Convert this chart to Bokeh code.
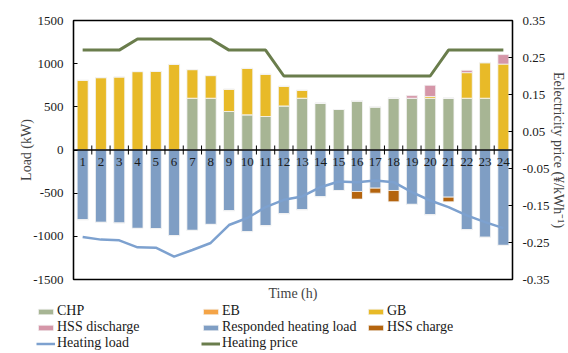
import numpy as np
from bokeh.plotting import figure
from bokeh.models import (ColumnDataSource, Range1d, LinearAxis, FixedTicker,
                          Span, Legend, LegendItem, NumeralTickFormatter)
from bokeh.core.properties import value
from bokeh.embed import file_html
from bokeh.resources import INLINE

# ---------------- data ----------------
hours = list(range(1, 25))
hour_labels = [str(h) for h in hours]

chp = [0, 0, 0, 0, 0, 0, 600, 600, 446, 408, 388, 511,
       600, 542, 469, 569, 500, 600, 600, 600, 600, 600, 600, 0]
eb = [0] * 24
gb = [808, 838, 846, 908, 911, 992, 331, 262, 258, 538, 489, 227,
      92, 0, 0, 0, 0, 0, 0, 20, 0, 296, 411, 995]
hss_discharge = [0, 0, 0, 0, 0, 0, 0, 0, 0, 0, 0, 0,
                 0, 0, 0, 0, 0, 0, 30, 130, 0, 27, 0, 110]
responded_load = [-808, -838, -846, -908, -911, -992, -931, -862, -704, -946, -877, -738,
                  -692, -542, -469, -481, -442, -469, -630, -750, -546, -923, -1011, -1105]
hss_charge = [0, 0, 0, 0, 0, 0, 0, 0, 0, 0, 0, 0,
              0, 0, 0, -88, -58, -131, 0, 0, -54, 0, 0, 0]
heating_load = [-1008, -1038, -1046, -1127, -1131, -1235, -1158, -1077, -869, -788, -662, -577,
                -538, -431, -365, -373, -354, -373, -488, -585, -662, -758, -835, -905]
heating_price = [0.27, 0.27, 0.27, 0.30, 0.30, 0.30, 0.30, 0.30, 0.27, 0.27, 0.27, 0.20,
                 0.20, 0.20, 0.20, 0.20, 0.20, 0.20, 0.20, 0.20, 0.27, 0.27, 0.27, 0.27]

left_ticks = [-1500, -1000, -500, 0, 500, 1000, 1500]
right_ticks = [-0.35, -0.25, -0.15, -0.05, 0.05, 0.15, 0.25, 0.35]

legend_labels = ["CHP", "EB", "GB", "HSS discharge", "Responded heating load",
                 "HSS charge", "Heating load", "Heating price"]

colors_pos = ["#A7B594", "#F4A447", "#E8BA28", "#D596A8"]
colors_neg = ["#7F9EC4", "#B4640E"]
load_color = "#7DA1CF"
price_color = "#6A7D4C"

FONT = "Liberation Serif"

src = ColumnDataSource(dict(hours=hours, chp=chp, eb=eb, gb=gb, hss_dis=hss_discharge,
                            resp=responded_load, charge=hss_charge))

p = figure(width=568, height=303, x_range=Range1d(0.5, 24.5), y_range=Range1d(-1500, 1500),
           output_backend="svg", toolbar_location=None, title=None,
           min_border_left=73, min_border_top=20, min_border_right=52, min_border_bottom=24)
p.background_fill_color = "white"
p.border_fill_color = "white"
p.xgrid.visible = False
p.ygrid.visible = False
p.outline_line_color = "black"
p.outline_line_width = 1.3

p.extra_y_ranges = {"price": Range1d(-0.35, 0.35)}

# bars
pos = p.vbar_stack(["chp", "eb", "gb", "hss_dis"], x="hours", width=0.6, source=src,
                   fill_color=colors_pos, line_color="#F4F4F4", line_width=0.8)
neg = p.vbar_stack(["resp", "charge"], x="hours", width=0.6, source=src,
                   fill_color=colors_neg, line_color="#F4F4F4", line_width=0.8)

# lines
load_line = p.line(hours, heating_load, line_color=load_color, line_width=2.5)
price_line = p.line(hours, heating_price, line_color=price_color, line_width=3,
                    y_range_name="price")

# zero axis with ticks and hour labels
p.add_layout(Span(location=0, dimension="width", line_color="black", line_width=1.3))
p.scatter([h + 0.5 for h in hours[:-1]], [0] * 23, marker="dash", angle=np.pi / 2,
          size=9, line_color="black", line_width=1)
p.text(hours, [0] * 24, text=hour_labels, text_align="center", text_baseline="top",
       y_offset=8, text_font=value(FONT), text_font_size="13px", text_color="#1a1a1a")

# left axis
ya = p.yaxis[0]
ya.ticker = FixedTicker(ticks=left_ticks)
ya.formatter = NumeralTickFormatter(format="0")
ya.axis_label = "Load (kW)"
ya.axis_label_text_font = FONT
ya.axis_label_text_font_style = "normal"
ya.axis_label_text_font_size = "14px"
ya.axis_label_standoff = -4
ya.major_label_text_font = FONT
ya.major_label_text_font_size = "13px"
ya.major_label_text_color = "#1a1a1a"
ya.major_tick_in = 4
ya.major_tick_out = 0
ya.minor_tick_line_color = None
ya.major_label_standoff = 10
ya.axis_line_color = "black"
ya.axis_line_width = 1.3

# right axis
ra = LinearAxis(y_range_name="price", ticker=FixedTicker(ticks=right_ticks),
                formatter=NumeralTickFormatter(format="0.00"))
ra.axis_label = "Eelectricity price (¥/kWh⁻¹)"
ra.axis_label_text_font = FONT
ra.axis_label_text_font_style = "normal"
ra.axis_label_text_font_size = "14px"
ra.axis_label_text_line_height = 0.8
ra.axis_label_standoff = -2
ra.major_label_text_font = FONT
ra.major_label_text_font_size = "13px"
ra.major_label_text_color = "#1a1a1a"
ra.major_tick_in = 4
ra.major_tick_out = 0
ra.minor_tick_line_color = None
ra.major_label_standoff = 10
ra.axis_line_color = "black"
ra.axis_line_width = 1.3
p.add_layout(ra, "right")

# bottom axis (title only)
xa = p.xaxis[0]
xa.ticker = FixedTicker(ticks=[])
xa.axis_label = "Time (h)"
xa.axis_label_text_font = FONT
xa.axis_label_text_font_style = "normal"
xa.axis_label_text_font_size = "14px"
xa.axis_label_standoff = 6
xa.major_tick_out = 0
xa.major_tick_in = 0
xa.major_label_standoff = 0
xa.minor_tick_line_color = None
xa.axis_line_color = None

# ---------------- legend strip (separate root, placed below) ----------------
lf = figure(width=568, height=50, output_backend="svg", toolbar_location=None, title=None,
            x_axis_type=None, y_axis_type=None, x_range=Range1d(0, 1), y_range=Range1d(0, 1),
            min_border_left=0, min_border_right=0, min_border_top=0, min_border_bottom=0)
lf.outline_line_color = None
lf.xgrid.visible = False
lf.ygrid.visible = False

nan = [float("nan")]
bar_colors = colors_pos + colors_neg
renderers = [lf.vbar(x=nan, top=nan, width=0.5, fill_color=c, line_color="#F4F4F4",
                     line_width=0.8) for c in bar_colors]
renderers.append(lf.line(x=nan, y=nan, line_color=load_color, line_width=2.5))
renderers.append(lf.line(x=nan, y=nan, line_color=price_color, line_width=3))

items = [LegendItem(label=lab, renderers=[r]) for lab, r in zip(legend_labels, renderers)]
legend = Legend(items=items, orientation="horizontal", ncols=3, location=(36, 2),
                label_text_font=FONT, label_text_font_size="14px", label_text_color="#1a1a1a",
                label_text_line_height=0.9, label_height=15, label_width=144,
                glyph_width=19, glyph_height=7, label_standoff=2, spacing=0,
                padding=0, margin=0, border_line_color=None, background_fill_alpha=0)
lf.add_layout(legend, "center")

open("out.html", "w").write(file_html([p, lf], INLINE))
